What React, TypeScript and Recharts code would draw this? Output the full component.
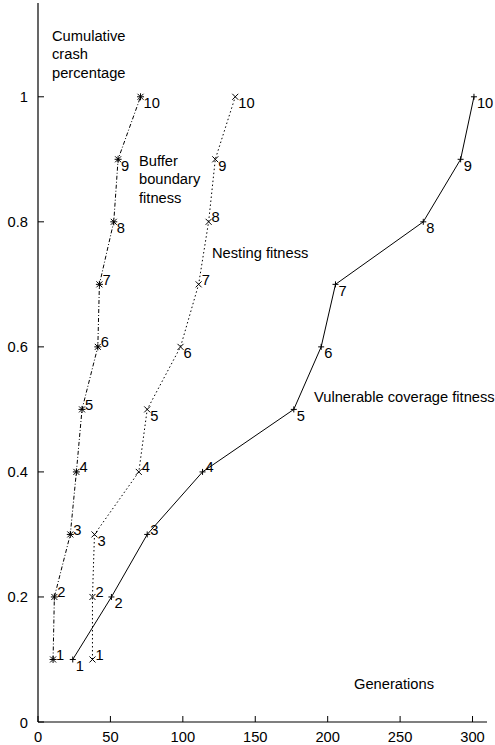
import React from "react";
import { LineChart, Line, XAxis, YAxis, LabelList } from "recharts";

// generations at which each cumulative crash level was reached
const bufferGenerations = [10.4, 11.3, 22.3, 26.5, 30.4, 41.3, 42.4, 52.3, 55.3, 70.8];
const nestingGenerations = [37.6, 37.6, 39.0, 69.6, 75.4, 98.4, 110.9, 117.8, 122.4, 136.2];
const vulnerableGenerations = [24.0, 50.7, 75.4, 113.6, 176.6, 195.5, 205.4, 266.0, 291.8, 301.0];
const crashShare = [0.1, 0.2, 0.3, 0.4, 0.5, 0.6, 0.7, 0.8, 0.9, 1.0];
const pointNames = ["1", "2", "3", "4", "5", "6", "7", "8", "9", "10"];

const xTicks = [0, 50, 100, 150, 200, 250, 300];
const yTicks = [0, 0.2, 0.4, 0.6, 0.8, 1];

// where each point number sits: true = above right, false = below right
const bufferAbove = [true, true, true, true, true, true, true, false, false, false];
const nestingAbove = [true, true, false, true, false, false, true, true, false, false];
const vulnerableAbove = [false, false, true, true, false, false, false, false, false, false];

const FONT = '"Liberation Sans", Arial, sans-serif';
const FS = 14.7;

const toPoints = (xs: number[]) =>
    xs.map((x, i) => ({ x, y: crashShare[i], name: pointNames[i] }));

const bufferData = toPoints(bufferGenerations);
const nestingData = toPoints(nestingGenerations);
const vulnerableData = toPoints(vulnerableGenerations);

const PlusMark = ({ cx, cy, r = 3 }: any) => (
    <path d={`M${cx - r},${cy}H${cx + r}M${cx},${cy - r}V${cy + r}`} stroke="#000" strokeWidth={1} fill="none" />
);
const CrossMark = ({ cx, cy, r = 3 }: any) => (
    <path d={`M${cx - r},${cy - r}L${cx + r},${cy + r}M${cx - r},${cy + r}L${cx + r},${cy - r}`} stroke="#000" strokeWidth={1} fill="none" />
);
const StarMark = ({ cx, cy }: any) => (
    <g>
        <PlusMark cx={cx} cy={cy} r={3.5} />
        <CrossMark cx={cx} cy={cy} r={3} />
    </g>
);

const pointLabel = (above: boolean[]) => (props: any) => {
    const x = props.x ?? props.viewBox?.x;
    const y = props.y ?? props.viewBox?.y;
    const idx = props.index ?? pointNames.indexOf(String(props.value));
    const up = above[idx];
    return (
        <text x={x + 3} y={up ? y + 0.5 : y + 11.5} fontSize={FS} fontFamily={FONT} fill="#000">
            {props.value}
        </text>
    );
};

const XTick = ({ x, y, payload }: any) => (
    <g>
        <line x1={x} x2={x} y1={y} y2={y - 6} stroke="#000" />
        <text x={x} y={y + 20} textAnchor="middle" fontSize={FS} fontFamily={FONT} fill="#000">
            {payload.value}
        </text>
    </g>
);

const YTick = ({ x, y, payload }: any) => (
    <g>
        <line x1={x} x2={x + 6} y1={y} y2={y} stroke="#000" />
        <text x={x - 10} y={y + 5.5} textAnchor="end" fontSize={FS} fontFamily={FONT} fill="#000">
            {payload.value}
        </text>
    </g>
);

const Note = ({ x, y, lines }: { x: number; y: number; lines: string[] }) => (
    <text x={x} y={y} fontSize={FS} fontFamily={FONT} fill="#000">
        {lines.map((l, i) => (
            <tspan key={i} x={x} dy={i === 0 ? 0 : 18.5}>{l}</tspan>
        ))}
    </text>
);

export default function App() {
    return (
        <div style={{ position: "absolute", left: 0, top: 0, width: 495, height: 745, background: "#fff" }}>
            <LineChart width={495} height={745} margin={{ top: 3, right: 8, bottom: 0, left: 0 }}>
                <XAxis
                    type="number"
                    dataKey="x"
                    domain={[0, 310]}
                    ticks={xTicks}
                    allowDataOverflow
                    height={23}
                    tickLine={false}
                    tickSize={0}
                    tickMargin={0}
                    tick={<XTick />}
                    axisLine={{ stroke: "#000", strokeWidth: 1.2 }}
                />
                <YAxis
                    type="number"
                    dataKey="y"
                    domain={[0, 1.15]}
                    ticks={yTicks}
                    allowDataOverflow
                    width={38}
                    tickLine={false}
                    tickSize={0}
                    tickMargin={0}
                    tick={<YTick />}
                    axisLine={{ stroke: "#000", strokeWidth: 1.2 }}
                />
                <Line
                    data={bufferData}
                    dataKey="y"
                    type="linear"
                    stroke="#000"
                    strokeWidth={1}
                    strokeDasharray="4 2 1 2"
                    isAnimationActive={false}
                    dot={(p: any) => <StarMark key={`b${p.index}`} cx={p.cx} cy={p.cy} />}
                >
                    <LabelList dataKey="name" content={pointLabel(bufferAbove)} />
                </Line>
                <Line
                    data={nestingData}
                    dataKey="y"
                    type="linear"
                    stroke="#000"
                    strokeWidth={1}
                    strokeDasharray="1.5 2.5"
                    isAnimationActive={false}
                    dot={(p: any) => <CrossMark key={`n${p.index}`} cx={p.cx} cy={p.cy} />}
                >
                    <LabelList dataKey="name" content={pointLabel(nestingAbove)} />
                </Line>
                <Line
                    data={vulnerableData}
                    dataKey="y"
                    type="linear"
                    stroke="#000"
                    strokeWidth={1}
                    isAnimationActive={false}
                    dot={(p: any) => <PlusMark key={`v${p.index}`} cx={p.cx} cy={p.cy} />}
                >
                    <LabelList dataKey="name" content={pointLabel(vulnerableAbove)} />
                </Line>
                <Note x={52} y={40.5} lines={["Cumulative", "crash", "percentage"]} />
                <Note x={139} y={165.5} lines={["Buffer", "boundary", "fitness"]} />
                <Note x={212} y={258} lines={["Nesting fitness"]} />
                <Note x={314} y={402} lines={["Vulnerable coverage fitness"]} />
                <Note x={354} y={688.5} lines={["Generations"]} />
            </LineChart>
        </div>
    );
}
